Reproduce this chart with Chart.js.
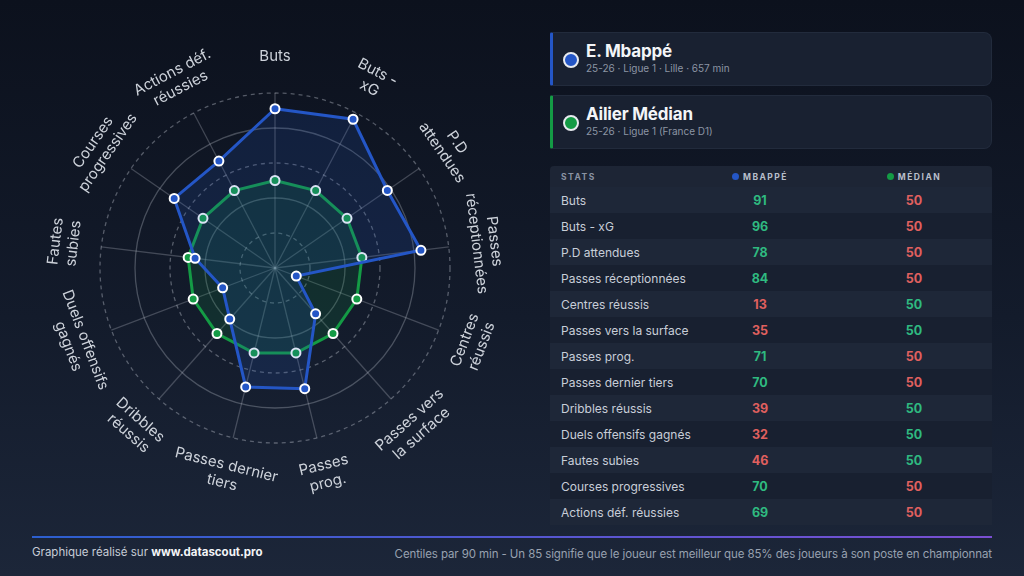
<!DOCTYPE html>
<html><head><meta charset="utf-8">
<script src="https://cdn.jsdelivr.net/npm/chart.js@4"></script>
<style>
*{box-sizing:border-box;margin:0;padding:0}
html,body{width:1024px;height:576px;overflow:hidden}
body{background:linear-gradient(180deg,#0c111d 0%,#131b2b 55%,#1c2639 100%);font-family:Inter,Roboto,"Noto Sans",sans-serif;color:#e6e9ee;position:relative}
#radarWrap{position:absolute;left:25px;top:18px;width:500px;height:500px}
.card{position:absolute;left:550px;width:442px;height:54px;background:#192131;border:1px solid #222b3c;border-radius:8px;border-left:3px solid #2456c6;border-top-left-radius:2px;border-bottom-left-radius:2px}
.card .dot{position:absolute;left:10px;top:19px;width:16px;height:16px;border-radius:50%;border:2px solid #e8ebf0}
.card .name{position:absolute;left:33px;top:8px;font-size:17px;font-weight:700;color:#f3f5f8;letter-spacing:-0.2px}
.card .sub{position:absolute;left:33px;top:29px;font-size:10px;color:#8c95a4}
#tbl{position:absolute;left:550px;top:166px;width:442px}
.hdr{height:21px;background:#1d2535;border-radius:4px 4px 0 0;position:relative;font-size:8.5px;font-weight:700;letter-spacing:1.5px;color:#8a93a3}
.row{height:26px;position:relative;font-size:12px;color:#c8ced8}
.row.odd{background:#1e2738}
.row.even{background:#182030}
.c1{position:absolute;left:11px;top:50%;transform:translateY(-50%)}
.c2{position:absolute;left:210px;width:0;top:50%;transform:translateY(-50%);display:flex;justify-content:center;align-items:center;white-space:nowrap}
.c3{position:absolute;left:364px;width:0;top:50%;transform:translateY(-50%);display:flex;justify-content:center;align-items:center;white-space:nowrap}
.val{font-weight:700;font-size:12.5px}
.hd{display:inline-block;flex-shrink:0;width:7px;height:7px;border-radius:50%;margin-right:4px}
.hdr .c2,.hdr .c3{color:#b8bfcb}
#line{position:absolute;left:32px;top:536px;width:960px;height:2px;background:linear-gradient(90deg,#2c5fcf,#7a4fd2)}
#fl{position:absolute;left:32px;top:545px;font-size:11.5px;color:#c6ccd6}
#fl b{color:#f2f4f7}
#fr{position:absolute;right:32px;top:547px;font-size:11.5px;color:#98a1b0;letter-spacing:-0.1px}
</style></head>
<body>
<div id="radarWrap"><canvas id="radar" width="500" height="500"></canvas></div>

<div class="card" style="top:32px;border-left-color:#2456c6"><div class="dot" style="background:#2456c6"></div><div class="name" id="p1name"></div><div class="sub" id="p1sub"></div></div>
<div class="card" style="top:95px;border-left-color:#149b45"><div class="dot" style="background:#149b45"></div><div class="name" id="p2name"></div><div class="sub" id="p2sub"></div></div>

<div id="tbl"></div>
<div id="line"></div>
<div id="fl">Graphique réalisé sur <b>www.datascout.pro</b></div>
<div id="fr">Centiles par 90 min - Un 85 signifie que le joueur est meilleur que 85% des joueurs à son poste en championnat</div>

<script>
const categories = ["Buts","Buts - xG","P.D attendues","Passes réceptionnées","Centres réussis","Passes vers la surface","Passes prog.","Passes dernier tiers","Dribbles réussis","Duels offensifs gagnés","Fautes subies","Courses progressives","Actions déf. réussies"];
const radarLabels = [["Buts"],["Buts -","xG"],["P.D","attendues"],["Passes","réceptionnées"],["Centres","réussis"],["Passes vers","la surface"],["Passes","prog."],["Passes dernier","tiers"],["Dribbles","réussis"],["Duels offensifs","gagnés"],["Fautes","subies"],["Courses","progressives"],["Actions déf.","réussies"]];
const mbappeValues = [91,96,78,84,13,35,71,70,39,32,46,70,69];
const medianValues = [50,50,50,50,50,50,50,50,50,50,50,50,50];
const playerName = "E. Mbappé";
const playerSub = "25-26 · Ligue 1 · Lille · 657 min";
const refName = "Ailier Médian";
const refSub = "25-26 · Ligue 1 (France D1)";
const tableHeaders = ["STATS","MBAPPÉ","MÉDIAN"];
const radialTicks = [0,20,40,60,80,100];

document.getElementById('p1name').textContent = playerName;
document.getElementById('p1sub').textContent = playerSub;
document.getElementById('p2name').textContent = refName;
document.getElementById('p2sub').textContent = refSub;

const BLUE = '#2456c6', GREEN = '#149b45', UP = '#2fba80', DOWN = '#e0605f';
let html = '<div class="hdr"><span class="c1">'+tableHeaders[0]+'</span><span class="c2"><i class="hd" style="background:'+BLUE+'"></i>'+tableHeaders[1]+'</span><span class="c3"><i class="hd" style="background:'+GREEN+'"></i>'+tableHeaders[2]+'</span></div>';
categories.forEach((c,i)=>{
  const a = mbappeValues[i], b = medianValues[i];
  html += '<div class="row '+(i%2===0?'odd':'even')+'"><span class="c1">'+c+'</span><span class="c2 val" style="color:'+(a>b?UP:DOWN)+'">'+a+'</span><span class="c3 val" style="color:'+(b>a?UP:DOWN)+'">'+b+'</span></div>';
});
document.getElementById('tbl').innerHTML = html;

const labelPlugin = {
  id:'rotLabels',
  afterDraw(chart){
    const s = chart.scales.r, ctx = chart.ctx;
    ctx.save();
    ctx.font = '15px Inter, Roboto, sans-serif';
    ctx.fillStyle = '#cdd2da';
    ctx.textAlign = 'center';
    ctx.textBaseline = 'middle';
    const lh = 18;
    radarLabels.forEach((lines,i)=>{
      const p = s.getPointPosition(i, 212);
      let th = s.getIndexAngle(i);
      let rot = (th > Math.PI/2 && th < 3*Math.PI/2) ? th - Math.PI : th;
      ctx.save();
      ctx.translate(p.x, p.y);
      ctx.rotate(rot);
      const n = lines.length;
      lines.forEach((l,k)=>{
        ctx.fillText(l, 0, (k - (n-1)/2)*lh);
      });
      ctx.restore();
    });
    ctx.restore();
  }
};

new Chart(document.getElementById('radar'), {
  type:'radar',
  data:{
    labels: categories,
    datasets:[
      {label:playerName,data:mbappeValues,borderColor:BLUE,backgroundColor:'rgba(36,86,198,0.17)',borderWidth:3,pointRadius:4.5,pointBorderWidth:2,pointBorderColor:'#ffffff',pointBackgroundColor:BLUE,fill:true},
      {label:refName,data:medianValues,borderColor:GREEN,backgroundColor:'rgba(20,155,69,0.16)',borderWidth:3,pointRadius:4.5,pointBorderWidth:2,pointBorderColor:'#ffffff',pointBackgroundColor:GREEN,fill:true}
    ]
  },
  options:{
    responsive:false,
    animation:false,
    layout:{padding:75},
    plugins:{legend:{display:false},tooltip:{enabled:false}},
    scales:{r:{
      min:radialTicks[0],max:radialTicks[radialTicks.length-1],
      ticks:{display:false,stepSize:radialTicks[1]-radialTicks[0]},
      pointLabels:{display:false},
      grid:{circular:true,color:c=>(c.tick && (c.tick.value/20)%2===1)?'rgba(200,205,215,0.38)':'rgba(200,205,215,0.3)',lineWidth:1.3},
      border:{dash:c=>(c.tick && (c.tick.value/20)%2===1)?[4,4]:[]},
      angleLines:{color:'rgba(200,205,215,0.27)',lineWidth:1.3}
    }}
  },
  plugins:[labelPlugin]
});
</script>
</body></html>
